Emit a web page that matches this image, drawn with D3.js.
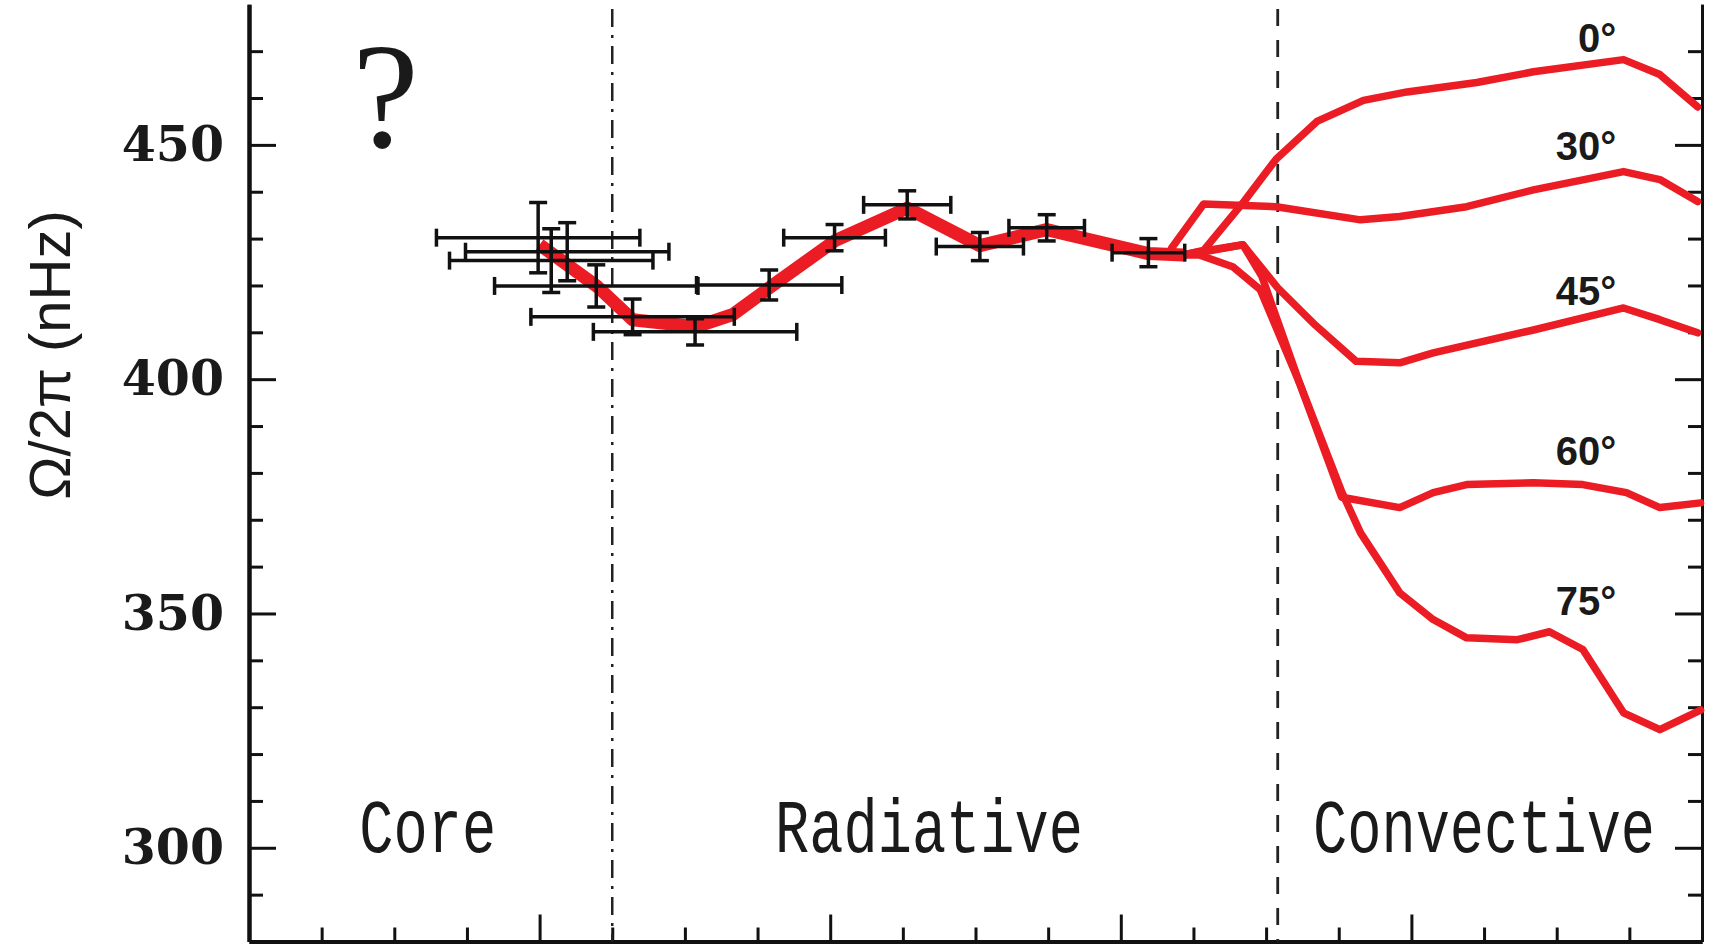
<!DOCTYPE html>
<html>
<head>
<meta charset="utf-8">
<script src="https://cdn.jsdelivr.net/npm/d3@7"></script>
<style>
  html, body { margin: 0; padding: 0; background: #fff; }
  svg { display: block; }
</style>
</head>
<body>
<div id="chart"></div>
<script>
// Helioseismic inversion points (r/R, rotation rate in nHz) with errors
const pointR    = [0.199, 0.219, 0.208, 0.239, 0.264, 0.307, 0.358, 0.403, 0.453, 0.503, 0.549, 0.619];
const pointW    = [430.2, 427.2, 425.3, 419.9, 413.3, 410.1, 420.1, 430.2, 437.2, 428.3, 432.3, 427.0];
const pointRErr = [0.070, 0.070, 0.070, 0.070, 0.070, 0.070, 0.050, 0.035, 0.030, 0.030, 0.026, 0.025];
const pointWErr = [7.5, 6.2, 6.8, 4.5, 3.8, 2.8, 3.2, 2.8, 3.0, 3.0, 2.8, 3.0];

// mean profile through the radiative interior
const meanR = [0.200, 0.240, 0.264, 0.308, 0.333, 0.359, 0.403, 0.453, 0.503, 0.549, 0.619, 0.643];
const meanW = [428.7, 419.7, 412.7, 411.2, 413.8, 419.7, 429.5, 436.5, 428.5, 431.9, 426.8, 426.5];

// convective zone profiles by latitude
const lat0R  = [0.643, 0.657, 0.685, 0.707, 0.735, 0.767, 0.797, 0.845, 0.884, 0.946, 0.971, 0.997];
const lat0W  = [426.5, 427.5, 438.0, 447.0, 455.0, 459.5, 461.3, 463.3, 465.6, 468.2, 465.0, 458.1];
const lat30R = [0.635, 0.657, 0.707, 0.765, 0.792, 0.838, 0.884, 0.946, 0.971, 0.997];
const lat30W = [428.0, 437.4, 436.8, 434.0, 434.7, 436.8, 440.4, 444.3, 442.6, 437.9];
const lat45R = [0.643, 0.654, 0.684, 0.708, 0.734, 0.762, 0.792, 0.815, 0.884, 0.946, 0.971, 0.997];
const lat45W = [426.5, 427.2, 428.7, 419.5, 411.5, 403.8, 403.5, 405.6, 410.5, 415.2, 412.7, 409.9];
const lat60R = [0.643, 0.654, 0.684, 0.697, 0.723, 0.752, 0.792, 0.815, 0.838, 0.884, 0.918, 0.948, 0.971, 0.999];
const lat60W = [426.5, 427.0, 428.7, 422.0, 399.2, 374.8, 372.6, 375.8, 377.5, 377.9, 377.5, 375.8, 372.6, 373.6];
const lat75R = [0.643, 0.654, 0.677, 0.696, 0.723, 0.752, 0.765, 0.792, 0.815, 0.838, 0.873, 0.895, 0.918, 0.946, 0.971, 0.999];
const lat75W = [426.5, 426.5, 424.0, 419.1, 399.2, 376.0, 367.2, 354.4, 348.7, 344.8, 344.4, 346.1, 342.3, 328.8, 325.2, 329.4];

const latNames  = ['0°', '30°', '45°', '60°', '75°'];
const latLabelW = [469.9, 446.8, 415.9, 381.7, 349.7];
const latLabelR = 0.941;

const zoneNames  = ['Core', 'Radiative', 'Convective'];
const zoneCentre = [0.123, 0.468, 0.850];
const zoneBounds = [0.25, 0.708];

const yMajor = [300, 350, 400, 450];
const yMinor = [290, 310, 320, 330, 340, 360, 370, 380, 390, 410, 420, 430, 440, 460, 470];
const xMajor = [0.2, 0.4, 0.6, 0.8];
const xMinor = [0.05, 0.1, 0.15, 0.25, 0.3, 0.35, 0.45, 0.5, 0.55, 0.65, 0.7, 0.75, 0.85, 0.9, 0.95];

const W = 1711, H = 944;
const red = '#ec1c24';

const svg = d3.select('#chart').append('svg')
  .attr('width', W)
  .attr('height', H)
  .style('background', '#fff');

const x = d3.scaleLinear().domain([0, 1]).range([249, 1702]);
const y = d3.scaleLinear().domain([280, 480]).range([941.5, 4.3]);

// axes: ticks all point into the plot
function styleAxis(g, width) {
  g.select('.domain').attr('stroke', '#111').attr('stroke-width', width);
  g.selectAll('.tick line').attr('stroke', '#111').attr('stroke-width', 3);
}

svg.append('g')
  .attr('transform', `translate(${x(0)},0)`)
  .call(d3.axisLeft(y).tickValues(yMinor).tickSize(-14).tickSizeOuter(0).tickFormat(''))
  .call(g => styleAxis(g, 4));

const yAxis = svg.append('g')
  .attr('transform', `translate(${x(0)},0)`)
  .call(d3.axisLeft(y).tickValues(yMajor).tickSize(-27).tickSizeOuter(0).tickPadding(25))
  .call(g => styleAxis(g, 4));
yAxis.selectAll('.tick text')
  .attr('fill', '#1a1a1a')
  .style('font-family', '"DejaVu Serif", serif')
  .style('font-weight', 'bold')
  .style('font-size', '49px');

svg.append('g')
  .attr('transform', `translate(${x(1)},0)`)
  .call(d3.axisRight(y).tickValues(yMinor).tickSize(-14).tickSizeOuter(0).tickFormat(''))
  .call(g => styleAxis(g, 3));
svg.append('g')
  .attr('transform', `translate(${x(1)},0)`)
  .call(d3.axisRight(y).tickValues(yMajor).tickSize(-27).tickSizeOuter(0).tickFormat(''))
  .call(g => styleAxis(g, 3));

svg.append('g')
  .attr('transform', `translate(0,${y(280)})`)
  .call(d3.axisBottom(x).tickValues(xMinor).tickSize(-14).tickSizeOuter(0).tickFormat(''))
  .call(g => styleAxis(g, 4));
svg.append('g')
  .attr('transform', `translate(0,${y(280)})`)
  .call(d3.axisBottom(x).tickValues(xMajor).tickSize(-27).tickSizeOuter(0).tickFormat(''))
  .call(g => styleAxis(g, 4));

// y axis title
svg.append('text')
  .attr('transform', `translate(70,355) rotate(-90)`)
  .attr('text-anchor', 'middle')
  .attr('fill', '#1a1a1a')
  .style('font-family', '"Liberation Sans", Arial, sans-serif')
  .style('font-size', '58px')
  .text('Ω/2π (nHz)');

// zone boundaries
svg.append('line')
  .attr('x1', x(zoneBounds[0])).attr('x2', x(zoneBounds[0]))
  .attr('y1', y(479)).attr('y2', y(280))
  .attr('stroke', '#222').attr('stroke-width', 2.5)
  .attr('stroke-dasharray', '18,8,3,8');
svg.append('line')
  .attr('x1', x(zoneBounds[1])).attr('x2', x(zoneBounds[1]))
  .attr('y1', y(479)).attr('y2', y(280))
  .attr('stroke', '#222').attr('stroke-width', 2.8)
  .attr('stroke-dasharray', '17,14');

// zone names (typewriter face, stretched vertically like the original)
svg.selectAll('.zone')
  .data(zoneNames)
  .enter().append('text')
  .attr('class', 'zone')
  .attr('transform', (d, i) => `translate(${x(zoneCentre[i])},${y(299.1)}) scale(1,1.33)`)
  .attr('text-anchor', 'middle')
  .attr('fill', '#1a1a1a')
  .style('font-family', '"Liberation Mono", "Courier New", monospace')
  .style('font-size', '57px')
  .text(d => d);

// question mark over the core
svg.append('text')
  .attr('x', x(0.094))
  .attr('y', y(449.6))
  .attr('text-anchor', 'middle')
  .attr('fill', '#1a1a1a')
  .style('font-family', '"Liberation Serif", "Times New Roman", serif')
  .style('font-size', '150px')
  .text('?');

// latitude profiles
const line = d3.line()
  .x(d => x(d[0]))
  .y(d => y(d[1]))
  .curve(d3.curveLinear);

const latSeries = [
  [lat0R, lat0W], [lat30R, lat30W], [lat45R, lat45W], [lat60R, lat60W], [lat75R, lat75W]
];
latSeries.forEach(([rs, ws]) => {
  svg.append('path')
    .datum(rs.map((r, i) => [r, ws[i]]))
    .attr('fill', 'none')
    .attr('stroke', red)
    .attr('stroke-width', 7.5)
    .attr('stroke-linejoin', 'round')
    .attr('stroke-linecap', 'round')
    .attr('d', line);
});

svg.selectAll('.lat-label')
  .data(latNames)
  .enter().append('text')
  .attr('class', 'lat-label')
  .attr('x', x(latLabelR))
  .attr('y', (d, i) => y(latLabelW[i]))
  .attr('text-anchor', 'end')
  .attr('fill', '#1a1a1a')
  .style('font-family', '"Liberation Sans", Arial, sans-serif')
  .style('font-weight', 'bold')
  .style('font-size', '40px')
  .text(d => d);

// mean interior profile
svg.append('path')
  .datum(meanR.map((r, i) => [r, meanW[i]]))
  .attr('fill', 'none')
  .attr('stroke', red)
  .attr('stroke-width', 13)
  .attr('stroke-linejoin', 'round')
  .attr('d', line);

// error bars
const pts = pointR.map((r, i) => ({ r, w: pointW[i], dr: pointRErr[i], dw: pointWErr[i] }));
const eb = svg.append('g')
  .attr('stroke', '#111')
  .attr('stroke-width', 3.5)
  .attr('fill', 'none');
const cap = 9;

pts.forEach(p => {
  const cx = x(p.r), cy = y(p.w);
  const x0 = x(p.r - p.dr), x1 = x(p.r + p.dr);
  const y0 = y(p.w - p.dw), y1 = y(p.w + p.dw);
  eb.append('line').attr('x1', x0).attr('x2', x1).attr('y1', cy).attr('y2', cy);
  eb.append('line').attr('x1', x0).attr('x2', x0).attr('y1', cy - cap).attr('y2', cy + cap);
  eb.append('line').attr('x1', x1).attr('x2', x1).attr('y1', cy - cap).attr('y2', cy + cap);
  eb.append('line').attr('x1', cx).attr('x2', cx).attr('y1', y0).attr('y2', y1);
  eb.append('line').attr('x1', cx - cap).attr('x2', cx + cap).attr('y1', y0).attr('y2', y0);
  eb.append('line').attr('x1', cx - cap).attr('x2', cx + cap).attr('y1', y1).attr('y2', y1);
});
</script>
</body>
</html>
